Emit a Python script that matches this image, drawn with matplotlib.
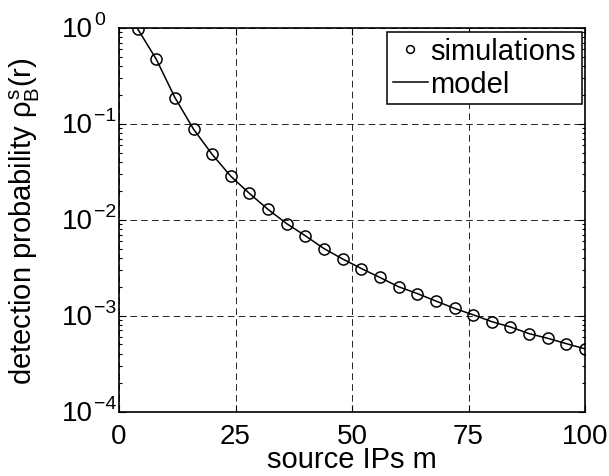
import numpy as np
import matplotlib
matplotlib.use("Agg")
import matplotlib.pyplot as plt
from matplotlib.ticker import LogLocator, FixedLocator, NullFormatter

plt.rcParams["font.family"] = ["Liberation Sans", "DejaVu Sans"]
plt.rcParams["mathtext.fontset"] = "custom"
plt.rcParams["mathtext.rm"] = "Liberation Sans"
plt.rcParams["mathtext.it"] = "Liberation Sans"
plt.rcParams["mathtext.bf"] = "Liberation Sans"

# source IPs m
m_values = [4, 8, 12, 16, 20, 24, 28, 32, 36, 40, 44, 48, 52,
            56, 60, 64, 68, 72, 76, 80, 84, 88, 92, 96, 100]
# simulated detection probability
sim_prob = [0.98, 0.472, 0.188, 0.088, 0.048, 0.0284, 0.0188, 0.0128,
            0.0091, 0.0068, 0.0050, 0.0039, 0.0031, 0.0025, 0.0020,
            0.0017, 0.00142, 0.00119, 0.00102, 0.000865, 0.000762,
            0.000649, 0.00058, 0.00051, 0.00045]
# model curve
model_prob = [0.98, 0.472, 0.188, 0.088, 0.048, 0.0284, 0.0188, 0.0128,
              0.0091, 0.0068, 0.0050, 0.0039, 0.0031, 0.0025, 0.0020,
              0.0017, 0.00142, 0.00119, 0.00102, 0.000865, 0.000762,
              0.000649, 0.00058, 0.00051, 0.00045]
x_ticks = [0, 25, 50, 75, 100]
y_exponents = [0, -1, -2, -3, -4]

fig = plt.figure(figsize=(6.09, 4.77), dpi=100)
ax = fig.add_axes([0.1954, 0.1352, 0.7652, 0.804])

ax.semilogy(m_values, sim_prob, "o", color="k", mfc="none", ms=8,
            mew=1.1, label="simulations", zorder=3)
ax.semilogy(m_values, model_prob, "-", color="k", lw=1.1, label="model",
            zorder=2)

ax.set_xlim(0, 100)
ax.set_ylim(1e-4, 1e0)
ax.xaxis.set_major_locator(FixedLocator(x_ticks))
ax.yaxis.set_major_locator(FixedLocator([10.0 ** e for e in y_exponents]))
ax.yaxis.set_minor_locator(LogLocator(base=10, subs=np.arange(2, 10), numticks=10))
ax.yaxis.set_major_formatter(NullFormatter())
ax.yaxis.set_minor_formatter(NullFormatter())

ax.grid(True, which="major", color="k", linestyle=(0, (8, 5)), lw=0.6)
ax.tick_params(which="both", direction="in", top=True, right=True,
               labelsize=20, width=0.8)
ax.tick_params(which="major", length=5)
ax.tick_params(axis="x", which="major", pad=8)
ax.tick_params(which="minor", length=2.5)
for s in ax.spines.values():
    s.set_linewidth(1.2)

# MATLAB style 10^k labels: base and exponent as separate texts
for e in y_exponents:
    ax.annotate("10", xy=(0, 10.0 ** e), xycoords=("axes fraction", "data"),
                xytext=(-57, -1), textcoords="offset pixels",
                ha="left", va="center", fontsize=20, annotation_clip=False)
    ax.annotate(str(e).replace("-", "\u2212"), xy=(0, 10.0 ** e),
                xycoords=("axes fraction", "data"),
                xytext=(-25, 4), textcoords="offset pixels",
                ha="left", va="baseline", fontsize=14, annotation_clip=False)

ax.set_xlabel("source IPs m", fontsize=21)
ax.xaxis.set_label_coords(0.5, -0.088)
ax.set_ylabel(r"detection probability $\rho_B^s$(r)", fontsize=21)
ax.yaxis.set_label_coords(-0.165, 0.5)

leg = ax.legend(loc="upper right", fontsize=21, fancybox=False,
                edgecolor="k", framealpha=1, borderaxespad=0.12,
                handlelength=1.2, handletextpad=0.08, borderpad=0.2,
                labelspacing=0.15, markerscale=0.7)
leg.get_frame().set_linewidth(1.1)

fig.savefig("out.png", dpi=100)
